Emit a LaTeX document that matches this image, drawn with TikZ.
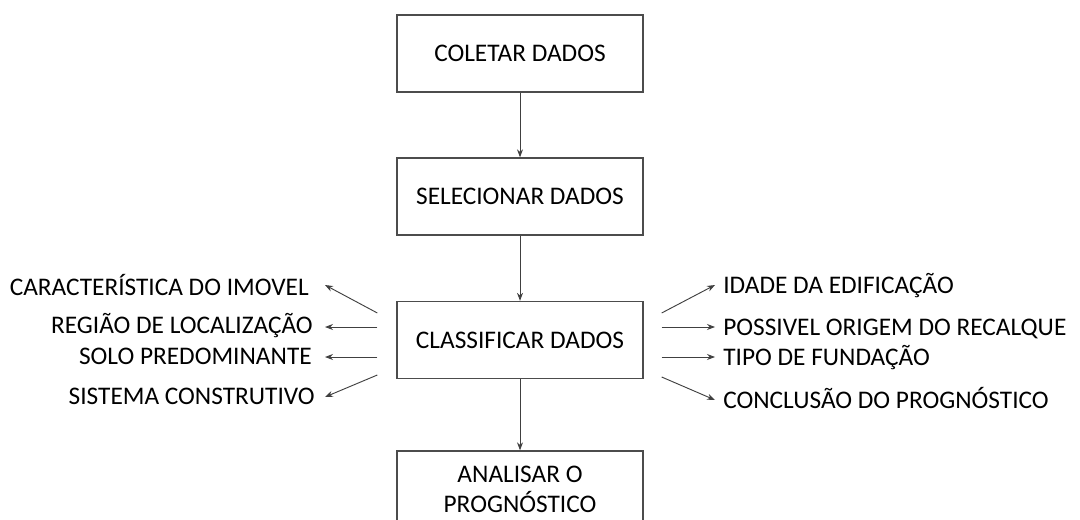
\documentclass[tikz,border=0pt]{standalone}
\usepackage{fontspec}
\setmainfont{Carlito}
\usetikzlibrary{arrows.meta,calc}

\tikzset{
  etapa/.style={draw=black!70, line width=1pt, minimum width=184.5pt, minimum height=57.75pt, align=center, inner sep=0pt},
  rotulo/.style={inner sep=0pt, text height=12.2pt, text depth=0pt, text=black},
  seta/.style={draw=black!75, line width=0.7pt, -{Stealth[length=6pt,width=4.5pt]}}
}

\begin{document}
\begin{tikzpicture}[x=0.75pt,y=0.75pt,yscale=-1,xscale=1,font=\fontsize{19}{22.5}\selectfont]

\useasboundingbox (0,0) rectangle (1080,520);

%Shape: Rectangle
\node[etapa] (coletar) at (520,53.5) {COLETAR DADOS};
%Shape: Rectangle
\node[etapa] (selecionar) at (520,196.5) {SELECIONAR DADOS};
%Shape: Rectangle
\node[etapa] (classificar) at (520,340) {CLASSIFICAR DADOS};
%Shape: Rectangle
\node[etapa] (analisar) at (520,489.5) {ANALISAR O\\PROGNÓSTICO};

%Straight Lines
\draw[seta] (coletar) -- (selecionar);
\draw[seta] (selecionar) -- (classificar);
\draw[seta] (classificar) -- (analisar);

% Text Node
\node[rotulo, anchor=east] (caracteristica) at (309,287) {CARACTERÍSTICA DO IMOVEL};
% Text Node
\node[rotulo, anchor=east] (regiao) at (313,325) {REGIÃO DE LOCALIZAÇÃO};
% Text Node
\node[rotulo, anchor=east] (solo) at (312,356) {SOLO PREDOMINANTE};
% Text Node
\node[rotulo, anchor=east] (sistema) at (315,396) {SISTEMA CONSTRUTIVO};

% Text Node
\node[rotulo, anchor=west] (idade) at (723,285) {IDADE DA EDIFICAÇÃO};
% Text Node
\node[rotulo, anchor=west] (origem) at (723,327) {POSSIVEL ORIGEM DO RECALQUE};
% Text Node
\node[rotulo, anchor=west] (fundacao) at (723,357) {TIPO DE FUNDAÇÃO};
% Text Node
\node[rotulo, anchor=west] (conclusao) at (723,400) {CONCLUSÃO DO PROGNÓSTICO};

%Straight Lines
\draw[seta] ($(classificar.west)+(-19,-27)$) -- ($(caracteristica.east)+(16,-2)$);
\draw[seta] ($(classificar.west)+(-19,-13)$) -- ($(regiao.east)+(12,2)$);
\draw[seta] ($(classificar.west)+(-19,17)$) -- ($(solo.east)+(13,1)$);
\draw[seta] ($(classificar.west)+(-19,35)$) -- ($(sistema.east)+(10,1)$);

%Straight Lines
\draw[seta] ($(classificar.east)+(18,-27)$) -- ($(idade.west)+(-8,0)$);
\draw[seta] ($(classificar.east)+(18,-13)$) -- ($(origem.west)+(-8,0)$);
\draw[seta] ($(classificar.east)+(18,17)$) -- ($(fundacao.west)+(-8,0)$);
\draw[seta] ($(classificar.east)+(18,37)$) -- ($(conclusao.west)+(-8,0)$);

\end{tikzpicture}
\end{document}
